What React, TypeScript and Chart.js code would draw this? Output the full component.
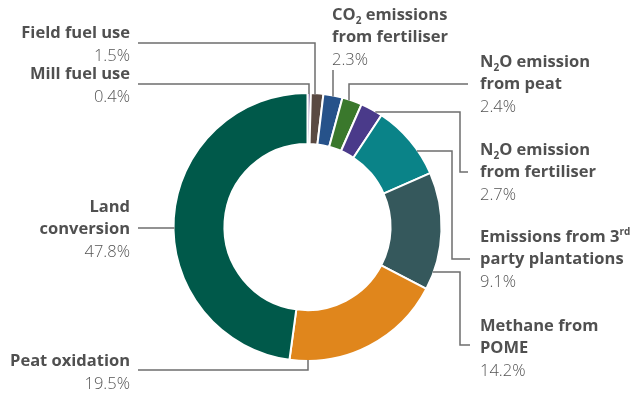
import React, { useEffect, useRef } from "react";
import { Chart, registerables } from "chart.js";

Chart.register(...registerables);

// ---- data ----
const categories = [
  "Mill fuel use",
  "Field fuel use",
  "CO2 emissions from fertiliser",
  "N2O emission from peat",
  "N2O emission from fertiliser",
  "Emissions from 3rd party plantations",
  "Methane from POME",
  "Peat oxidation",
  "Land conversion",
];
const shares = [0.4, 1.5, 2.3, 2.4, 2.7, 9.1, 14.2, 19.5, 47.8];
const sliceColors = [
  "#6a4c8e",
  "#5a4a42",
  "#26528a",
  "#3a782c",
  "#4a3a8a",
  "#0a8388",
  "#35585c",
  "#e0861c",
  "#00594a",
];

type Run = { t: string; sub?: boolean; sup?: boolean };
// label lines (rich text with sub/superscripts)
const labelLines: Run[][][] = [
  [[{ t: "Mill fuel use" }]],
  [[{ t: "Field fuel use" }]],
  [[{ t: "CO" }, { t: "2", sub: true }, { t: " emissions" }], [{ t: "from fertiliser" }]],
  [[{ t: "N" }, { t: "2", sub: true }, { t: "O emission" }], [{ t: "from peat" }]],
  [[{ t: "N" }, { t: "2", sub: true }, { t: "O emission" }], [{ t: "from fertiliser" }]],
  [[{ t: "Emissions from 3" }, { t: "rd", sup: true }], [{ t: "party plantations" }]],
  [[{ t: "Methane from" }], [{ t: "POME" }]],
  [[{ t: "Peat oxidation" }]],
  [[{ t: "Land" }], [{ t: "conversion" }]],
];

// ---- layout (label placement and leader routing) ----
type Layout = {
  align: "left" | "right";
  x: number;
  y: number; // centre of first line
  ring: "v" | "h";
  at: number;
  pts: number[][];
};
const layout: Layout[] = [
  { align: "right", x: 130, y: 74, ring: "v", at: 309, pts: [[309, 84], [138, 84]] },
  { align: "right", x: 130, y: 33, ring: "v", at: 315, pts: [[315, 43], [138, 43]] },
  { align: "left", x: 332, y: 15, ring: "v", at: 333, pts: [[333, 70]] },
  { align: "left", x: 480, y: 62, ring: "v", at: 349, pts: [[349, 84], [468, 84]] },
  { align: "left", x: 480, y: 150, ring: "h", at: 112, pts: [[460, 112], [460, 172], [468, 172]] },
  { align: "left", x: 480, y: 237, ring: "h", at: 151, pts: [[452, 151], [452, 259], [470, 259]] },
  { align: "left", x: 480, y: 326, ring: "h", at: 272, pts: [[460, 272], [460, 345], [470, 345]] },
  { align: "right", x: 130, y: 361, ring: "v", at: 308, pts: [[308, 370], [138, 370]] },
  { align: "right", x: 130, y: 207, ring: "h", at: 228, pts: [[138, 228]] },
];

const FONT = "'Open Sans', 'DejaVu Sans', sans-serif";
const FS = 16.5;
const LINE_H = 22.5;

function runFont(r: Run, weight: string) {
  const s = r.sub || r.sup ? Math.round(FS * 0.6) : FS;
  return `${weight} ${s}px ${FONT}`;
}

function drawRich(ctx: CanvasRenderingContext2D, runs: Run[], x: number, y: number, align: "left" | "right", weight: string, color: string) {
  let total = 0;
  for (const r of runs) {
    ctx.font = runFont(r, weight);
    total += ctx.measureText(r.t).width;
  }
  let cx = align === "left" ? x : x - total;
  ctx.fillStyle = color;
  ctx.textBaseline = "middle";
  ctx.textAlign = "left";
  for (const r of runs) {
    ctx.font = runFont(r, weight);
    let dy = 0;
    if (r.sub) dy = FS * 0.35;
    if (r.sup) dy = -FS * 0.3;
    ctx.fillText(r.t, cx, y + dy);
    cx += ctx.measureText(r.t).width;
  }
}

const labelsPlugin = {
  id: "leaderLabels",
  afterDraw(chart: any) {
    const ctx: CanvasRenderingContext2D = chart.ctx;
    const meta = chart.getDatasetMeta(0);
    const arc = meta.data[0];
    if (!arc) return;
    const cx = arc.x;
    const cy = arc.y;
    const r = arc.outerRadius;
    ctx.save();
    layout.forEach((L, i) => {
      // leader
      const first = L.pts[0];
      let sx: number, sy: number;
      if (L.ring === "v") {
        sx = L.at;
        const d = Math.sqrt(Math.max(r * r - (sx - cx) * (sx - cx), 0));
        sy = first[1] < cy ? cy - d + 1 : cy + d - 1;
      } else {
        sy = L.at;
        const d = Math.sqrt(Math.max(r * r - (sy - cy) * (sy - cy), 0));
        sx = first[0] > cx ? cx + d - 1 : cx - d + 1;
      }
      ctx.beginPath();
      ctx.moveTo(sx, sy);
      for (const p of L.pts) ctx.lineTo(p[0], p[1]);
      ctx.strokeStyle = "#6e6e6e";
      ctx.lineWidth = 1.5;
      ctx.stroke();
      // text
      const lines = labelLines[i];
      lines.forEach((runs, k) => {
        drawRich(ctx, runs, L.x, L.y + k * LINE_H, L.align, "bold", "#505050");
      });
      const pct = shares[i].toFixed(1) + "%";
      drawRich(ctx, [{ t: pct }], L.x, L.y + lines.length * LINE_H + 0.5, L.align, "300", "#555555");
    });
    ctx.restore();
  },
};

export default function App() {
  const ref = useRef<HTMLCanvasElement | null>(null);
  useEffect(() => {
    document.body.style.margin = "0";
    const canvas = ref.current;
    if (!canvas) return;
    const chart = new Chart(canvas, {
      type: "doughnut",
      data: {
        labels: categories,
        datasets: [
          {
            data: shares,
            backgroundColor: sliceColors,
            borderColor: "#ffffff",
            borderWidth: 2,
          },
        ],
      },
      options: {
        responsive: false,
        animation: false,
        cutout: "62%",
        layout: { padding: { left: 172, right: 194, top: 92, bottom: 32 } },
        plugins: { legend: { display: false }, tooltip: { enabled: false } },
      },
      plugins: [labelsPlugin],
    } as any);
    return () => chart.destroy();
  }, []);
  return (
    <div style={{ width: 637, height: 394, background: "#fff" }}>
      <canvas ref={ref} width={637} height={394} />
    </div>
  );
}
